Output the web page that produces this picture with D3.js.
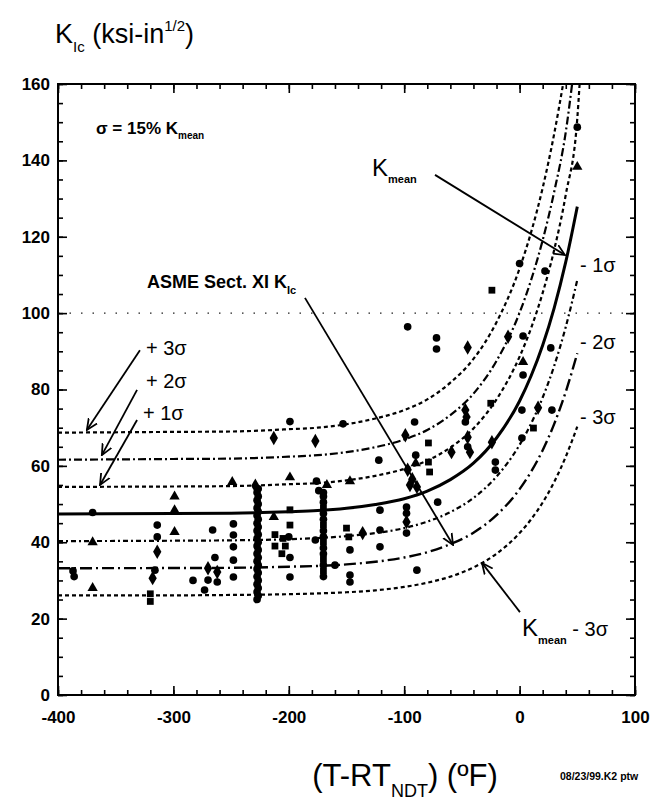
<!DOCTYPE html>
<html><head><meta charset="utf-8">
<script src="https://cdn.jsdelivr.net/npm/d3@7"></script>
<style>
body{margin:0;background:#fff}
svg{display:block}
text{font-family:"Liberation Sans",Arial,Helvetica,sans-serif;fill:#000}
</style>
</head><body><svg id="c" width="661" height="812"></svg>
<script>
// ---------- data ----------
const xTicksMajor = [-400,-300,-200,-100,0,100];
const yTicksMajor = [0,20,40,60,80,100,120,140,160];

// curve abscissae (T - RT_NDT, °F)
const curveT   = [-400,-300,-250,-200,-175,-150,-125,-100,-80,-60,-40,-20,0,10,20,30,40,50];
// K_mean curve (ksi-in^1/2)
const kMean    = [47.4,47.5,47.6,48.0,48.3,48.9,49.9,51.4,53.4,56.4,60.7,67.3,77.0,83.6,91.6,101.4,113.4,127.9];
// sigma bands (sigma = 15% K_mean)
const plus1T   = [-400,-300,-250,-200,-175,-150,-125,-100,-80,-60,-40,-20,0,10,20,30,40,50,52];
const plus1K   = [54.5,54.6,54.7,55.2,55.5,56.2,57.4,59.2,61.4,64.8,69.8,77.4,88.6,96.1,105.3,116.6,131.0,151.0,160];
const plus2T   = [-400,-300,-250,-200,-175,-150,-125,-100,-80,-60,-40,-20,0,10,20,30,40,45.5];
const plus2K   = [61.6,61.8,61.9,62.4,62.8,63.6,64.9,66.9,69.4,73.3,78.9,87.5,100.1,108.7,119.1,131.8,147.4,160];
const plus3T   = [-400,-300,-250,-200,-175,-150,-125,-100,-80,-60,-40,-20,0,10,20,30,37.7];
const plus3K   = [68.7,68.9,69.0,69.6,70.0,70.9,72.4,74.6,77.4,81.8,88.0,97.6,111.7,121.2,132.8,147.0,160];
const minus1K  = [40.3,40.4,40.5,40.8,41.1,41.6,42.4,43.7,45.4,47.9,51.6,57.2,65.5,71.1,77.9,86.2,96.4,108.7];
const minus2K  = [33.2,33.25,33.3,33.6,33.8,34.2,34.9,36.0,37.4,39.5,42.5,47.1,53.9,58.5,64.1,71.0,79.4,89.5];
const minus3K  = [26.1,26.1,26.2,26.4,26.6,26.9,27.4,28.3,29.4,31.0,33.4,37.0,42.4,46.0,50.4,55.8,62.4,70.3];

// measured K_Ic data points
const ptT = [-387,-386,-370,-370,-370,-320,-320,-314,-314,-314,-316,-318,-299,-299,-299,-283,
  -270,-262,-270,-262,-273,-266,-264,-248,-248,-248,-248,-248,-249,
  -227.5,-226.5,-227.5,-226.5,-227.5,-226.5,-227.5,-226.5,-227.5,-226.5,-227.5,-226.5,-227.5,-226.5,-227.5,
  -226.5,-227.5,-226.5,-227.5,-226.5,-227.5,-226.5,-227.5,-226.5,-227.5,-226.5,-227.5,-226.5,-227.5,-226.5,-229,
  -213,-213,-212,-212,-205,-203,-206,-199,-199,-199,-199,-200,-199,-199,
  -177,-176,-174,-177,
  -170,-170,-170,-170,-170,-170,-170,-170,-170,-170,-170,-170,-170,-170,-170,-170,
  -167,-160,-153,-147,-147,-147,-147,-150,-148,-136,-122,-121,-121,-121,
  -97,-99,-91,-90,-90,-97,-93,-89,-95,-98,-98,-98,-98,-89,
  -79,-79,-78,-72,-72,-71,-59,-47,-46,-47,-45,-45,-45,-43,
  -25,-24,-24,-21,-21,-10,0,3,3,3,2,2,12,16,22,27,28,50,50];
const ptK = [32.5,31,47.8,40,28,24.5,26.5,44.5,41.4,37.5,32.7,30.6,52,48.4,42.7,30,
  33.2,32.2,30.1,29.6,27.5,43.2,36,44.8,41.9,38.8,35.3,30.9,55.8,
  25,26,27,28,29,30,31,32,33,34,35,36,37,38,39,
  40,41,42,43,44,45,46,47,48,49,50,51,52,53,54,54.8,
  67.3,46.6,42,39,41,39,37,71.6,57,48.5,44.5,41.4,30.9,36,
  66.5,56,53.5,40.6,
  31,32.5,34,35.5,37,38.5,40,41.5,43,44.5,46,47.5,49,50.5,52,53,
  55,34,71,56,38,31.4,29.6,43.7,41.4,42.4,61.5,48.4,43.2,38.8,
  96.4,68,71.5,62.8,60.7,59,56.5,54.5,55,49.2,47.6,45.3,42.4,32.7,
  66,61,58.4,93.5,90.6,50.5,63.6,74.6,72.8,71.5,91,67.5,65,63.6,
  76.4,106,66.2,61,58.9,93.8,113,94,87.2,83.8,74.6,67.3,69.9,75.2,111,90.9,74.6,148.7,138.3];
const ptShape = ["c","c","c","t","t","s","s","c","c","d","c","d","t","t","t","c",
  "d","d","c","c","c","c","c","c","c","c","c","c","t",
  "c","c","c","c","c","c","c","c","c","c","c","c","c","c","c",
  "c","c","c","c","c","c","c","c","c","c","c","c","c","c","c","d",
  "d","t","s","s","s","s","s","c","t","s","s","c","c","c",
  "d","c","c","c",
  "c","s","c","s","c","c","s","c","c","s","c","c","s","c","c","c",
  "t","c","c","t","c","c","c","s","s","d","c","c","c","c",
  "c","d","c","c","t","d","d","d","d","c","c","d","c","c",
  "s","s","s","c","c","c","d","d","d","c","d","d","c","d",
  "s","s","d","c","c","d","c","c","t","c","c","c","s","d","c","c","c","c","t"];

// ---------- drawing ----------
const svg = d3.select("#c");
const L=58, R=635, T=84, B=695;
const x = d3.scaleLinear().domain([-400,100]).range([L,R]);
const y = d3.scaleLinear().domain([0,160]).range([B,T]);

svg.append("rect").attr("width",661).attr("height",812).attr("fill","#fff");
const defs = svg.append("defs");
defs.append("clipPath").attr("id","clip")
  .append("rect").attr("x",L).attr("y",T).attr("width",R-L).attr("height",B-T);

// dotted line at 100
svg.append("line").attr("x1",L).attr("x2",R).attr("y1",y(100)).attr("y2",y(100))
  .attr("stroke","#222").attr("stroke-width",1.2).attr("stroke-dasharray","1.5,10");

// axes (inward ticks)
const minorX = d3.range(-400,101,20);
const minorY = d3.range(0,161,5);
function axisG(gen, tr){ return svg.append("g").attr("transform",tr).call(gen); }
const bot = axisG(d3.axisBottom(x).tickValues(xTicksMajor).tickSize(-9).tickPadding(16)
   .tickFormat(d=>d<0? "-"+Math.abs(d):d), `translate(0,${B})`);
axisG(d3.axisBottom(x).tickValues(minorX).tickSize(-5).tickFormat(""), `translate(0,${B})`);
axisG(d3.axisTop(x).tickValues(xTicksMajor).tickSize(-9).tickFormat(""), `translate(0,${T})`);
axisG(d3.axisTop(x).tickValues(minorX).tickSize(-5).tickFormat(""), `translate(0,${T})`);
const lef = axisG(d3.axisLeft(y).tickValues(yTicksMajor).tickSize(-9).tickPadding(8), `translate(${L},0)`);
axisG(d3.axisLeft(y).tickValues(minorY).tickSize(-5).tickFormat(""), `translate(${L},0)`);
axisG(d3.axisRight(y).tickValues(yTicksMajor).tickSize(-9).tickFormat(""), `translate(${R},0)`);
axisG(d3.axisRight(y).tickValues(minorY).tickSize(-5).tickFormat(""), `translate(${R},0)`);
svg.selectAll(".domain").remove();
svg.selectAll(".tick line").attr("stroke","#000").attr("stroke-width",1.6);
bot.selectAll("text").attr("font-size",17).attr("font-weight","bold").attr("font-family","Liberation Sans, Arial");
lef.selectAll("text").attr("font-size",17).attr("font-weight","bold").attr("font-family","Liberation Sans, Arial");
svg.append("rect").attr("x",L).attr("y",T).attr("width",R-L).attr("height",B-T)
  .attr("fill","none").attr("stroke","#000").attr("stroke-width",2);

// curves
const line = d3.line().x(d=>x(d[0])).y(d=>y(d[1])).curve(d3.curveMonotoneX);
const curves = [
  {t:plus3T, k:plus3K, dash:"4,3", w:2.2},
  {t:plus2T, k:plus2K, dash:"8,3,2,3", w:2.2},
  {t:plus1T, k:plus1K, dash:"4,3", w:2.2},
  {t:curveT, k:kMean, dash:null, w:3},
  {t:curveT, k:minus1K, dash:"5,3,2,3", w:2.2},
  {t:curveT, k:minus2K, dash:"12,4,2,4", w:2.4},
  {t:curveT, k:minus3K, dash:"4,3", w:2.2}
];
const cg = svg.append("g").attr("clip-path","url(#clip)");
curves.forEach(c=>{
  cg.append("path").datum(c.t.map((t,i)=>[t,c.k[i]])).attr("d",line)
    .attr("fill","none").attr("stroke","#000").attr("stroke-width",c.w)
    .attr("stroke-dasharray",c.dash);
});

// points
const symMap = {c:d3.symbolCircle, d:d3.symbolDiamond, t:d3.symbolTriangle, s:d3.symbolSquare};
const sizeMap = {c:46, d:60, t:46, s:46};
cg.selectAll("path.pt").data(ptT.map((t,i)=>({t, k:ptK[i], s:ptShape[i]}))).join("path")
  .attr("class","pt")
  .attr("transform",d=>`translate(${x(d.t)},${y(d.k)})`)
  .attr("d",d=>d3.symbol(symMap[d.s], sizeMap[d.s])())
  .attr("fill","#000");

// arrows
defs.append("marker").attr("id","ah").attr("viewBox","0 -6 12 12").attr("refX",11).attr("refY",0)
  .attr("markerWidth",12).attr("markerHeight",12).attr("markerUnits","userSpaceOnUse").attr("orient","auto")
  .append("path").attr("d","M0,-5L11,0L0,5").attr("fill","none").attr("stroke","#000").attr("stroke-width",1.8);
const arrows = [
  [[-329,90.3],[-375,69.4]],
  [[-331.5,79.9],[-362,62.8]],
  [[-331.5,72],[-363.6,55]],
  [[-186,104],[-57.7,39.3]],
  [[-73.3,136.2],[39.3,115.2]],
  [[0.3,21.7],[-32.6,34.6]]
];
arrows.forEach(a=>{
  svg.append("line").attr("x1",x(a[0][0])).attr("y1",y(a[0][1]))
    .attr("x2",x(a[1][0])).attr("y2",y(a[1][1]))
    .attr("stroke","#000").attr("stroke-width",1.8).attr("marker-end","url(#ah)");
});

// text helpers
function label(xp, yp, parts, anchor){
  const t = svg.append("text").attr("x",xp).attr("y",yp).attr("text-anchor",anchor||"start");
  parts.forEach(p=>{
    const s = t.append("tspan").text(p.s).attr("font-size",p.f).attr("font-weight",p.b===false?"normal":"bold");
    if(p.dy) s.attr("dy",p.dy);
  });
  return t;
}
// titles
label(55,43,[{s:"K",f:27,b:false},{s:"Ic",f:15,dy:9,b:false},{s:" (ksi-in",f:27,dy:-9,b:false},{s:"1/2",f:15,dy:-12,b:false},{s:")",f:27,dy:12,b:false}]);
label(405,786,[{s:"(T-RT",f:31,b:false},{s:"NDT",f:18,dy:11,b:false},{s:") (ºF)",f:31,dy:-11,b:false}],"middle");
label(560,780,[{s:"08/23/99.K2 ptw",f:10.5}]);

// annotations
label(96,134,[{s:"σ = 15% K",f:17},{s:"mean",f:10,dy:5}]);
label(372,176,[{s:"K",f:24,b:false},{s:"mean",f:11,dy:7}]);
label(147,288,[{s:"ASME Sect. XI K",f:18},{s:"Ic",f:11,dy:6}]);
label(146,355,[{s:"+ 3σ",f:20,b:false}]);
label(146,388,[{s:"+ 2σ",f:20,b:false}]);
label(143,420,[{s:"+ 1σ",f:20,b:false}]);
label(580,272,[{s:"- 1σ",f:20,b:false}]);
label(580,349,[{s:"- 2σ",f:20,b:false}]);
label(580,424,[{s:"- 3σ",f:20,b:false}]);
label(522,636,[{s:"K",f:24,b:false},{s:"mean",f:11,dy:8},{s:" - 3σ",f:20,dy:-8,b:false}]);
</script>
</body></html>
